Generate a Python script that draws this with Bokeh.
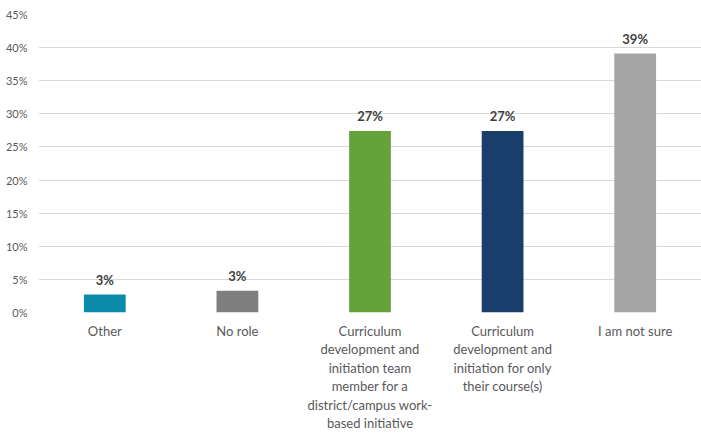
from bokeh.plotting import figure
from bokeh.models import ColumnDataSource, FactorRange, Range1d, NumeralTickFormatter, FixedTicker
from bokeh.core.properties import value
from bokeh.embed import file_html
from bokeh.resources import INLINE

categories = [
    "Other",
    "No role",
    "Curriculum\ndevelopment and\ninitiation team\nmember for a\ndistrict/campus work-\nbased initiative",
    "Curriculum\ndevelopment and\ninitiation for only\ntheir course(s)",
    "I am not sure",
]
values = [0.027, 0.033, 0.274, 0.274, 0.391]
labels = ["3%", "3%", "27%", "27%", "39%"]
colors = ["#0B8BA8", "#7F7F7F", "#66A23A", "#1A3E6B", "#A5A5A5"]
y_ticks = [0, 0.05, 0.10, 0.15, 0.20, 0.25, 0.30, 0.35, 0.40, 0.45]

FONT = "Lato"
TXT = "#595959"

src = ColumnDataSource(dict(cat=categories, val=values, lab=labels, col=colors))

p = figure(
    width=701, height=434,
    x_range=FactorRange(factors=categories, range_padding=0),
    y_range=Range1d(0, 0.45),
    output_backend="svg", toolbar_location=None,
    min_border_left=38, min_border_right=0, min_border_top=14, min_border_bottom=0,
)
p.outline_line_color = None
p.background_fill_color = "white"
p.border_fill_color = "white"

p.vbar(x="cat", top="val", width=0.315, fill_color="col", line_color=None, source=src)
p.text(x="cat", y="val", text="lab", source=src, text_align="center", text_baseline="bottom",
       y_offset=-7, text_font=value(FONT), text_font_size="13px", text_font_style="bold",
       text_color="#404040")

p.xgrid.grid_line_color = None
p.ygrid.grid_line_color = "#D9D9D9"
p.ygrid.grid_line_width = 1
p.ygrid.ticker = FixedTicker(ticks=y_ticks)

p.yaxis.ticker = FixedTicker(ticks=y_ticks)
p.yaxis.formatter = NumeralTickFormatter(format="0%")
p.yaxis.axis_line_color = None
p.yaxis.major_tick_line_color = None
p.yaxis.minor_tick_line_color = None
p.yaxis.major_tick_out = 0
p.yaxis.major_tick_in = 0
p.yaxis.major_label_standoff = 11
p.yaxis.major_label_text_font = FONT
p.yaxis.major_label_text_font_size = "11px"
p.yaxis.major_label_text_color = TXT

p.xaxis.axis_line_color = None
p.xaxis.major_tick_line_color = None
p.xaxis.major_tick_out = 0
p.xaxis.major_tick_in = 0
p.xaxis.major_label_standoff = 10
p.xaxis.major_label_text_font = FONT
p.xaxis.major_label_text_font_size = "13px"
p.xaxis.major_label_text_color = TXT
p.xaxis.major_label_text_line_height = 1.16

open("out.html", "w").write(file_html(p, INLINE))
